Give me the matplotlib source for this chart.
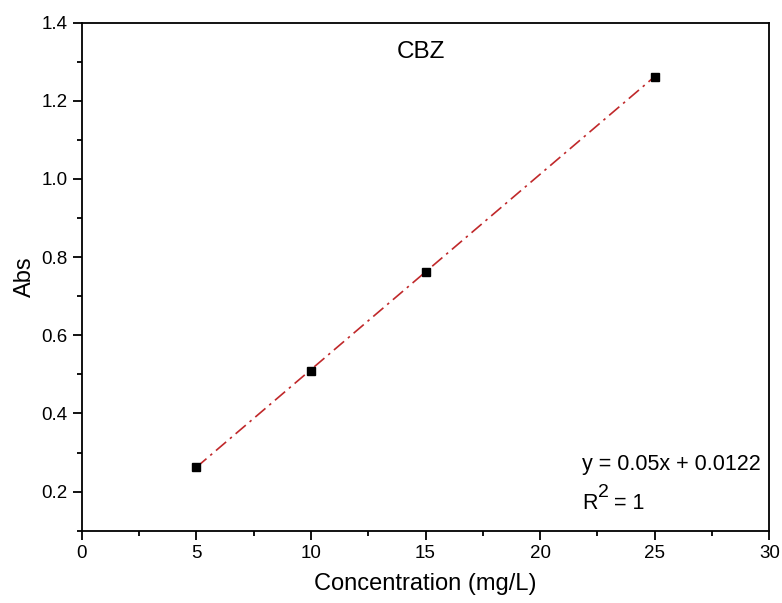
import numpy as np
import matplotlib.pyplot as plt
from matplotlib.ticker import MultipleLocator

plt.rcParams['font.family'] = ['Liberation Sans', 'DejaVu Sans']

# calibration data for CBZ
conc = [5, 10, 15, 25]
absorb = [0.263, 0.509, 0.761, 1.262]
slope = 0.05
intercept = 0.0122

fig = plt.figure(figsize=(7.82, 6.03), dpi=100)
ax = fig.add_axes([0.1045, 0.1199, 0.8793, 0.8425])

xfit = np.array([conc[0], conc[-1]])
ax.plot(xfit, slope * xfit + intercept, color='#c0282a', lw=1.2,
        linestyle=(0, (8, 3, 1.5, 3)), zorder=2)
ax.plot(conc, absorb, 's', color='black', markersize=5.5, zorder=3)

ax.set_xlim(0, 30)
ax.set_ylim(0.1, 1.4)
ax.xaxis.set_major_locator(MultipleLocator(5))
ax.xaxis.set_minor_locator(MultipleLocator(2.5))
ax.yaxis.set_major_locator(MultipleLocator(0.2))
ax.yaxis.set_minor_locator(MultipleLocator(0.1))
ax.yaxis.set_major_formatter(plt.FuncFormatter(lambda v, p: f'{v:.1f}'))

for s in ax.spines.values():
    s.set_linewidth(1.3)
ax.tick_params(which='both', direction='out', width=1.3, labelsize=13.5,
               top=False, right=False)
ax.tick_params(which='major', length=6.5)
ax.tick_params(which='minor', length=3.5)

ax.set_xlabel('Concentration (mg/L)', fontsize=17, labelpad=8)
ax.set_ylabel('Abs', fontsize=17, labelpad=4)

ax.text(14.8, 1.325, 'CBZ', fontsize=17.5, ha='center', va='center')
ax.text(0.728, 0.130, f'y = {slope}x + {intercept}', transform=ax.transAxes,
        fontsize=15.5, ha='left', va='center')

# R^2 line, superscript placed by hand
r_pos = (0.728, 0.0526)
ax.annotate('R', r_pos, xycoords='axes fraction', fontsize=15.5,
            ha='left', va='center')
ax.annotate('2', r_pos, xycoords='axes fraction', xytext=(11.6, 8),
            textcoords='offset points', fontsize=14, ha='left', va='center')
ax.annotate('= 1', r_pos, xycoords='axes fraction', xytext=(23, 0),
            textcoords='offset points', fontsize=15.5, ha='left', va='center')

fig.savefig('out.png', dpi=100)
